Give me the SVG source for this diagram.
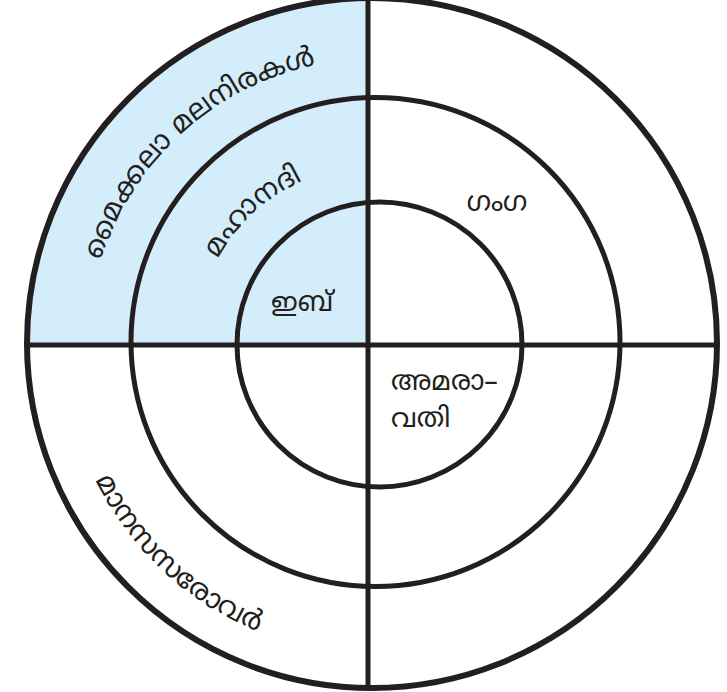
<svg xmlns="http://www.w3.org/2000/svg" width="727" height="692" viewBox="0 0 727 692">
<style>
.ring{fill:none;stroke:#231f20;stroke-width:5}
.outer{stroke-width:6}
.ln{stroke:#231f20;stroke-width:5;fill:none}
text{font-family:"Noto Sans Malayalam","Noto Sans",sans-serif;fill:#231f20}
.lbl{font-size:27px}
.arc{font-size:28px}
</style>
<defs>
<path id="pMaik" d="M90.1,318.2 A285,285 0 0,1 374,59"/>
<path id="pMaha" d="M196.7,328.5 A178,178 0 0,1 374,166"/>
<path id="pMana" d="M74.6,424.2 A310,310 0 0,0 314.9,648.3"/>
</defs>
<rect width="727" height="692" fill="#ffffff"/>
<g id="quadrant">
<path d="M368,345 V-2 A345,345 0 0,0 27,345 Z" fill="#d3eefa"/>
</g>
<g id="connectors">
<line class="ln" x1="368" y1="-5" x2="368" y2="688"/>
<line class="ln" x1="27" y1="345" x2="717" y2="345"/>
</g>
<g id="rings">
<circle class="ring outer" cx="372" cy="343" r="345"/>
<circle class="ring" cx="375.5" cy="342" r="244.5"/>
<circle class="ring" cx="379.5" cy="344.5" r="142.5"/>
</g>
<g id="maikala"><text class="arc"><textPath href="#pMaik" startOffset="50%" text-anchor="middle">മൈക്കലാ മലനിരകൾ</textPath></text></g>
<g id="mahanadi"><text class="arc"><textPath href="#pMaha" startOffset="50%" text-anchor="middle">മഹാനദി</textPath></text></g>
<g id="ib"><text class="lbl" x="302" y="311" text-anchor="middle">ഇബ്</text></g>
<g id="ganga"><text class="lbl" x="497" y="211" text-anchor="middle">ഗംഗ</text></g>
<g id="amaravati"><text class="lbl" x="391" y="390">അമരാ–</text><text class="lbl" x="391" y="427">വതി</text></g>
<g id="manasarovar"><text class="arc"><textPath href="#pMana" startOffset="50%" text-anchor="middle">മാനസസരോവർ</textPath></text></g>
</svg>
